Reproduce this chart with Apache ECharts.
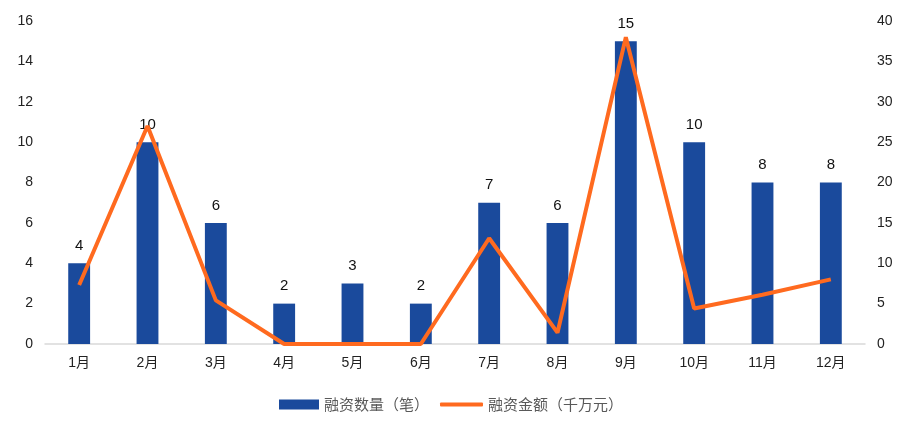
<!DOCTYPE html>
<html><head><meta charset="utf-8">
<script src="https://cdn.jsdelivr.net/npm/echarts@6/dist/echarts.min.js"></script>
<style>html,body{margin:0;padding:0;background:#fff}#c{width:910px;height:432px}</style>
</head><body><div id="c"></div>
<script>
const months = ['1月','2月','3月','4月','5月','6月','7月','8月','9月','10月','11月','12月'];
const countValues = [4,10,6,2,3,2,7,6,15,10,8,8];
const amountValues = [7.3,27,5.4,0,0,0,13.1,1.4,38,4.4,6.1,8];
const countName = '融资数量（笔）';
const amountName = '融资金额（千万元）';
const font = '"Liberation Sans", "Noto Sans CJK SC", sans-serif';
const cjk = '"Noto Sans CJK SC", sans-serif';
const chart = echarts.init(document.getElementById('c'));
chart.setOption({
  animation:false,
  textStyle:{fontFamily:font},
  grid:{left:45,right:45,top:21,bottom:88},
  legend:[
    {left:274,top:392,data:[countName],icon:'rect',itemWidth:40,itemHeight:10,itemGap:6,
     textStyle:{color:'#595959',fontSize:15,fontFamily:cjk}},
    {left:435,top:392,data:[amountName],icon:'roundRect',itemWidth:43,itemHeight:4,
     textStyle:{color:'#595959',fontSize:15,fontFamily:cjk}}
  ],
  xAxis:{type:'category',data:months,axisLine:{lineStyle:{color:'#d9d9d9',width:1.5}},axisTick:{show:false},
    axisLabel:{color:'#222',fontSize:14,margin:12,fontFamily:font}},
  yAxis:[
    {type:'value',min:0,max:16,interval:2,splitLine:{show:false},axisLine:{show:false},axisTick:{show:false},
     axisLabel:{color:'#222',fontSize:14,margin:12,fontFamily:font}},
    {type:'value',min:0,max:40,interval:5,splitLine:{show:false},axisLine:{show:false},axisTick:{show:false},
     axisLabel:{color:'#222',fontSize:14,margin:12,fontFamily:font}}
  ],
  series:[
    {name:countName,type:'bar',data:countValues,barWidth:'32%',itemStyle:{color:'#1a4a9c'},
     label:{show:true,position:'top',distance:10,color:'#111',fontSize:15,fontFamily:font}},
    {name:amountName,type:'line',yAxisIndex:1,data:amountValues,symbol:'none',
     lineStyle:{color:'#ff6a1f',width:4},itemStyle:{color:'#ff6a1f'}}
  ]
});
</script></body></html>
